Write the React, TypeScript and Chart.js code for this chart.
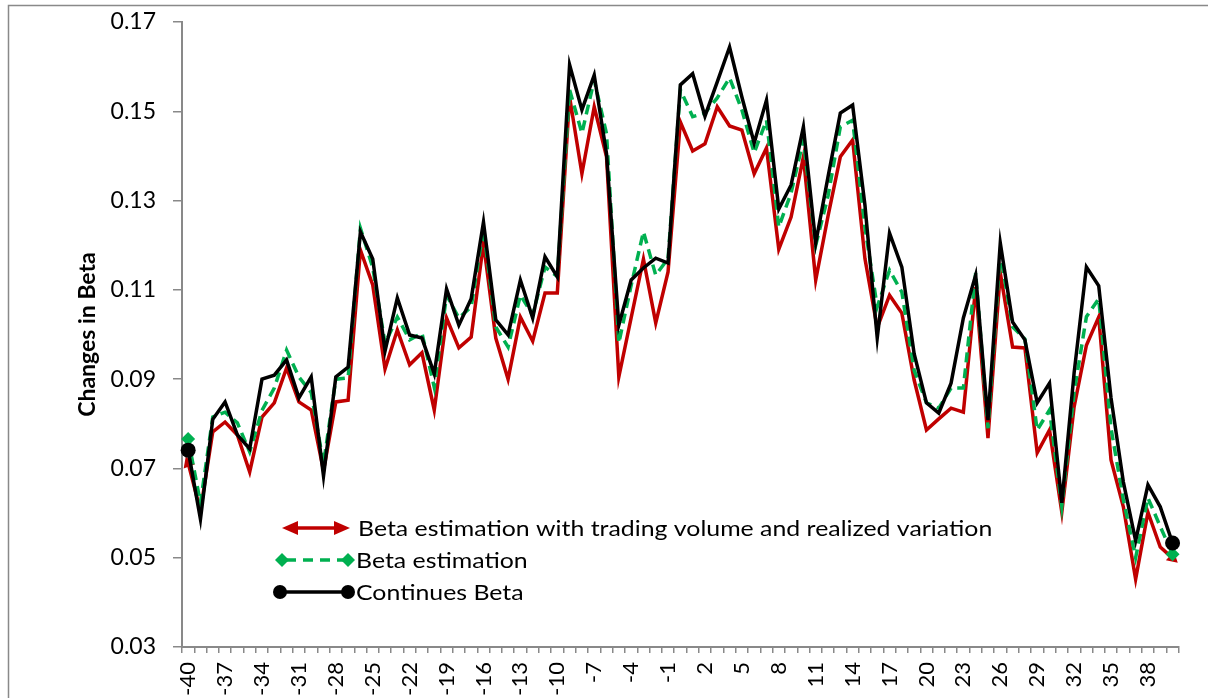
import React, { useEffect, useRef } from 'react';
import { Chart, registerables } from 'chart.js';

Chart.register(...registerables);

const categories = [
  '-40', '-39', '-38', '-37', '-36', '-35', '-34', '-33', '-32', '-31',
  '-30', '-29', '-28', '-27', '-26', '-25', '-24', '-23', '-22', '-21',
  '-20', '-19', '-18', '-17', '-16', '-15', '-14', '-13', '-12', '-11',
  '-10', '-9', '-8', '-7', '-6', '-5', '-4', '-3', '-2', '-1',
  '0', '1', '2', '3', '4', '5', '6', '7', '8', '9',
  '10', '11', '12', '13', '14', '15', '16', '17', '18', '19',
  '20', '21', '22', '23', '24', '25', '26', '27', '28', '29',
  '30', '31', '32', '33', '34', '35', '36', '37', '38', '39', '40',
];

const seriesNames = [
  'Beta estimation with trading volume and realized variation',
  'Beta estimation',
  'Continues Beta',
];

const betaVolume = [
  0.0712, 0.0605, 0.0782, 0.0804, 0.0775, 0.0692, 0.0815, 0.0847, 0.0925, 0.0849,
  0.0831, 0.0695, 0.0849, 0.0853, 0.1189, 0.1111, 0.0923, 0.1010, 0.0932, 0.0959,
  0.0831, 0.1037, 0.0970, 0.0994, 0.1205, 0.0992, 0.0900, 0.1039, 0.0985, 0.1093,
  0.1093, 0.1532, 0.1360, 0.1510, 0.1398, 0.0905, 0.1037, 0.1169, 0.1026, 0.1140,
  0.1476, 0.1411, 0.1427, 0.1510, 0.1467, 0.1458, 0.1360, 0.1418, 0.1191, 0.1263,
  0.1398, 0.1122, 0.1265, 0.1398, 0.1436, 0.1170, 0.1015, 0.1088, 0.1048, 0.0898,
  0.0786, 0.0811, 0.0835, 0.0826, 0.1106, 0.0768, 0.1138, 0.0972, 0.0970, 0.0735,
  0.0786, 0.0602, 0.0838, 0.0976, 0.1039, 0.0719, 0.0614, 0.0452, 0.0602, 0.0524, 0.0499,
];

const betaEstimation = [
  0.0766, 0.0623, 0.0815, 0.0826, 0.0802, 0.0737, 0.0830, 0.0880, 0.0965, 0.0905,
  0.0870, 0.0710, 0.0900, 0.0903, 0.1238, 0.1150, 0.0980, 0.1039, 0.0988, 0.1003,
  0.0882, 0.1088, 0.1037, 0.1062, 0.1238, 0.1017, 0.0972, 0.1088, 0.1044, 0.1151,
  0.1130, 0.1548, 0.1451, 0.1570, 0.1450, 0.0981, 0.1110, 0.1230, 0.1133, 0.1170,
  0.1548, 0.1488, 0.1496, 0.1530, 0.1575, 0.1503, 0.1407, 0.1480, 0.1241, 0.1317,
  0.1436, 0.1200, 0.1310, 0.1465, 0.1480, 0.1240, 0.1062, 0.1144, 0.1095, 0.0920,
  0.0847, 0.0835, 0.0880, 0.0880, 0.1138, 0.0790, 0.1183, 0.1017, 0.0990, 0.0786,
  0.0831, 0.0615, 0.0870, 0.1040, 0.1080, 0.0790, 0.0630, 0.0500, 0.0634, 0.0570, 0.0508,
];

const continuousBeta = [
  0.0741, 0.0586, 0.0810, 0.0849, 0.0775, 0.0744, 0.0900, 0.0909, 0.0943, 0.0858,
  0.0905, 0.0683, 0.0905, 0.0927, 0.1230, 0.1169, 0.0963, 0.1082, 0.0999, 0.0992,
  0.0912, 0.1102, 0.1021, 0.1080, 0.1252, 0.1033, 0.0999, 0.1122, 0.1037, 0.1174,
  0.1129, 0.1604, 0.1503, 0.1581, 0.1405, 0.1021, 0.1122, 0.1149, 0.1171, 0.1160,
  0.1559, 0.1584, 0.1489, 0.1566, 0.1644, 0.1532, 0.1429, 0.1525, 0.1281, 0.1335,
  0.1465, 0.1205, 0.1353, 0.1496, 0.1514, 0.1290, 0.0992, 0.1227, 0.1151, 0.0957,
  0.0847, 0.0824, 0.0891, 0.1037, 0.1133, 0.0808, 0.1205, 0.1028, 0.0988, 0.0847,
  0.0891, 0.0623, 0.0914, 0.1151, 0.1109, 0.0858, 0.0670, 0.0538, 0.0663, 0.0614, 0.0533,
];

const yMin = 0.03;
const yMax = 0.17;
const yStep = 0.02;
const labelEvery = 3;
const yTitle = 'Changes in Beta';

const RED = '#C00000';
const GREEN = '#00B050';
const BLACK = '#000000';
const AXIS = '#898989';
const FONT = 'Lato, "Open Sans", sans-serif';

const W = 1208;
const H = 698;

const endsOnly = (r: number) => (ctx: any) => {
  const last = ctx.dataset.data.length - 1;
  return ctx.dataIndex === 0 || ctx.dataIndex === last ? r : 0;
};

const drawWideText = (ctx: any, text: string, x: number, y: number, sx: number) => {
  ctx.save();
  ctx.translate(x, y);
  ctx.scale(sx, 1);
  ctx.fillText(text, 0, 0);
  ctx.restore();
};

const frameAndLegend = {
  id: 'frameAndLegend',
  beforeDraw(chart: any) {
    const ctx = chart.ctx;
    ctx.save();
    ctx.fillStyle = '#fff';
    ctx.fillRect(0, 0, chart.width, chart.height);
    ctx.strokeStyle = AXIS;
    ctx.lineWidth = 1.5;
    ctx.strokeRect(8.5, 5.5, chart.width + 20, chart.height + 20);
    ctx.restore();
  },
  afterDraw(chart: any) {
    const ctx = chart.ctx;
    const names = chart.data.datasets.map((d: any) => d.label);
    const sx = 1.13;
    ctx.save();
    ctx.font = `22px ${FONT}`;
    ctx.textBaseline = 'middle';
    ctx.textAlign = 'left';

    // Row 1: red double arrow
    let y = 528;
    ctx.strokeStyle = RED;
    ctx.fillStyle = RED;
    ctx.lineWidth = 3.5;
    ctx.beginPath();
    ctx.moveTo(292, y);
    ctx.lineTo(340, y);
    ctx.stroke();
    ctx.beginPath();
    ctx.moveTo(282, y);
    ctx.lineTo(298, y - 7);
    ctx.lineTo(298, y + 7);
    ctx.closePath();
    ctx.fill();
    ctx.beginPath();
    ctx.moveTo(350, y);
    ctx.lineTo(334, y - 7);
    ctx.lineTo(334, y + 7);
    ctx.closePath();
    ctx.fill();
    ctx.fillStyle = '#000';
    drawWideText(ctx, names[0], 358, y + 1, sx);

    // Row 2: green dashed with diamonds
    y = 560;
    ctx.strokeStyle = GREEN;
    ctx.fillStyle = GREEN;
    ctx.setLineDash([10, 7]);
    ctx.beginPath();
    ctx.moveTo(286, y);
    ctx.lineTo(346, y);
    ctx.stroke();
    ctx.setLineDash([]);
    for (const cx of [282, 348]) {
      ctx.beginPath();
      ctx.moveTo(cx, y - 7);
      ctx.lineTo(cx + 7, y);
      ctx.lineTo(cx, y + 7);
      ctx.lineTo(cx - 7, y);
      ctx.closePath();
      ctx.fill();
    }
    ctx.fillStyle = '#000';
    drawWideText(ctx, names[1], 356, y + 1, sx);

    // Row 3: black with circles
    y = 592;
    ctx.strokeStyle = BLACK;
    ctx.fillStyle = BLACK;
    ctx.beginPath();
    ctx.moveTo(280, y);
    ctx.lineTo(348, y);
    ctx.stroke();
    for (const cx of [280, 348]) {
      ctx.beginPath();
      ctx.arc(cx, y, 7, 0, Math.PI * 2);
      ctx.fill();
    }
    ctx.fillStyle = '#000';
    drawWideText(ctx, names[2], 356, y + 1, sx);
    ctx.restore();
  },
};

export default function App() {
  const ref = useRef<HTMLCanvasElement | null>(null);

  useEffect(() => {
    if (!ref.current) return;
    const chart = new Chart(ref.current, {
      type: 'line',
      data: {
        labels: categories,
        datasets: [
          {
            label: seriesNames[0],
            data: betaVolume,
            borderColor: RED,
            backgroundColor: RED,
            borderWidth: 3.5,
            tension: 0,
            fill: false,
            order: 3,
            pointStyle: 'triangle',
            pointRadius: endsOnly(7),
            pointHoverRadius: 0,
            pointBorderWidth: 0,
            pointRotation: (ctx: any) => (ctx.dataIndex === 0 ? -20 : 132),
          },
          {
            label: seriesNames[1],
            data: betaEstimation,
            borderColor: GREEN,
            backgroundColor: GREEN,
            borderWidth: 3.5,
            borderDash: [10, 6],
            tension: 0,
            fill: false,
            order: 2,
            pointStyle: 'rectRot',
            pointRadius: endsOnly(7),
            pointHoverRadius: 0,
            pointBorderWidth: 0,
          },
          {
            label: seriesNames[2],
            data: continuousBeta,
            borderColor: BLACK,
            backgroundColor: BLACK,
            borderWidth: 3.5,
            tension: 0,
            fill: false,
            order: 1,
            pointStyle: 'circle',
            pointRadius: endsOnly(7.5),
            pointHoverRadius: 0,
            pointBorderWidth: 0,
          },
        ],
      },
      options: {
        responsive: false,
        animation: false,
        devicePixelRatio: 1,
        events: [],
        layout: { padding: { top: 22, right: 6.5, bottom: 0, left: 0 } },
        plugins: {
          legend: { display: false },
          tooltip: { enabled: false },
          title: { display: false },
        },
        scales: {
          x: {
            type: 'category',
            offset: true,
            grid: {
              offset: true,
              drawOnChartArea: false,
              drawTicks: true,
              tickLength: 6,
              color: AXIS,
              lineWidth: 1.5,
            },
            border: { display: true, color: AXIS, width: 2 },
            ticks: {
              autoSkip: false,
              minRotation: 90,
              maxRotation: 90,
              padding: 9,
              color: '#000',
              font: { family: FONT, size: 22 },
              callback: (_v: any, i: number) => (i % labelEvery === 0 ? categories[i] : ''),
            },
            afterFit: (scale: any) => {
              scale.height = 51;
            },
          },
          y: {
            min: yMin,
            max: yMax,
            grid: {
              drawOnChartArea: false,
              drawTicks: true,
              tickLength: 9,
              color: AXIS,
              lineWidth: 1.5,
            },
            border: { display: true, color: AXIS, width: 2 },
            ticks: {
              stepSize: yStep,
              padding: 17,
              color: '#000',
              font: { family: FONT, size: 23 },
              callback: (v: any) => Number(v).toFixed(2),
            },
            title: {
              display: true,
              text: yTitle,
              color: '#000',
              font: { family: FONT, size: 23, weight: 'bold' },
              padding: { top: 74, bottom: 0 },
            },
            afterFit: (scale: any) => {
              scale.width = 182;
              scale.paddingTop = 0;
              scale.paddingBottom = 0;
            },
          },
        },
      },
      plugins: [frameAndLegend],
    });
    return () => chart.destroy();
  }, []);

  return (
    <div style={{ position: 'absolute', left: 0, top: 0, width: W, height: H, overflow: 'hidden' }}>
      <canvas ref={ref} width={W} height={H} style={{ display: 'block', width: W, height: H }} />
    </div>
  );
}
